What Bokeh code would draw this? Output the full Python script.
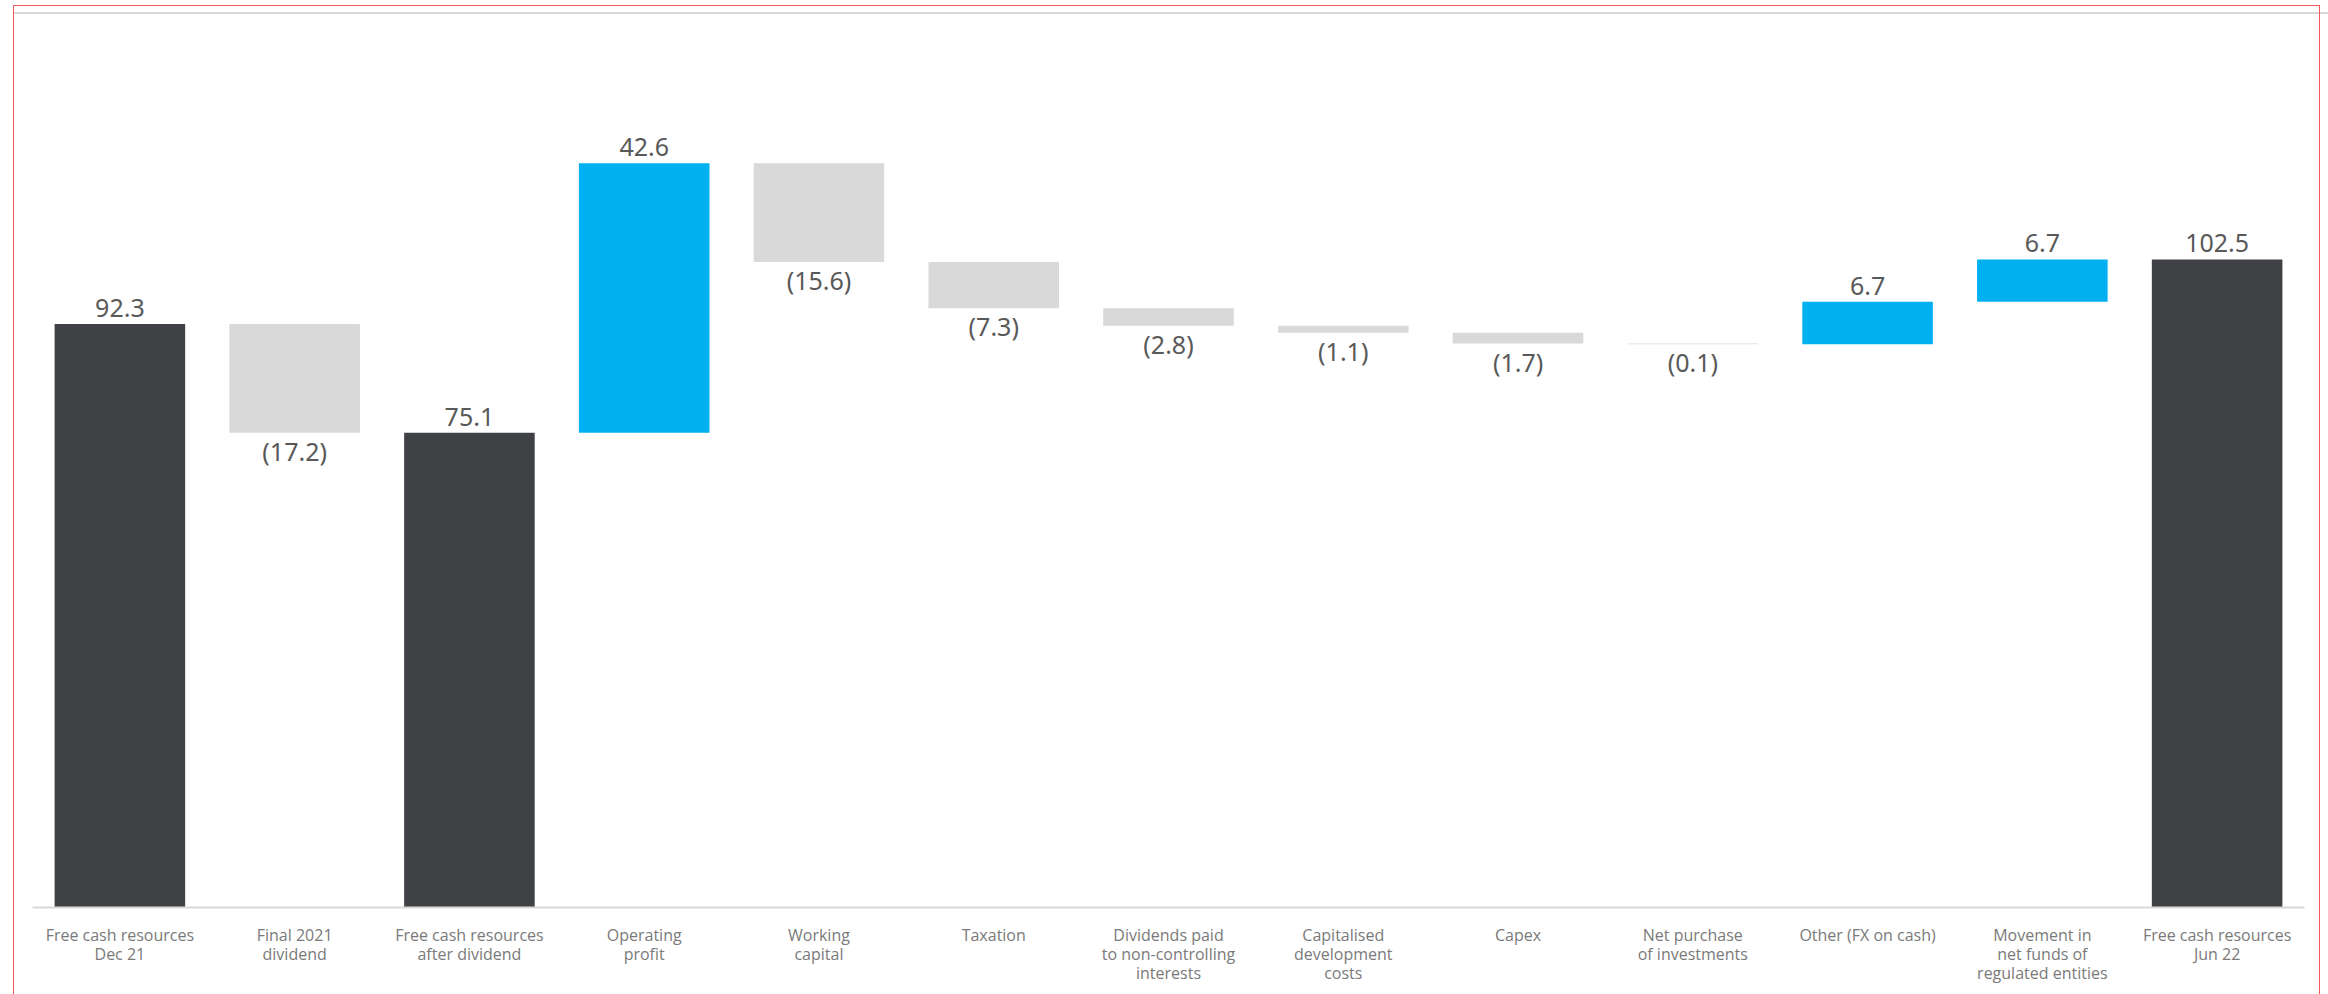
from bokeh.plotting import figure
from bokeh.models import FactorRange, Range1d, ColumnDataSource, InlineStyleSheet
from bokeh.core.properties import value
from bokeh.embed import file_html
from bokeh.resources import INLINE

# ---- data ----
categories = [
    "Free cash resources\nDec 21",
    "Final 2021\ndividend",
    "Free cash resources\nafter dividend",
    "Operating\nprofit",
    "Working\ncapital",
    "Taxation",
    "Dividends paid\nto non-controlling\ninterests",
    "Capitalised\ndevelopment\ncosts",
    "Capex",
    "Net purchase\nof investments",
    "Other (FX on cash)",
    "Movement in\nnet funds of\nregulated entities",
    "Free cash resources\nJun 22",
]
amounts = [92.3, -17.2, 75.1, 42.6, -15.6, -7.3, -2.8, -1.1, -1.7, -0.1, 6.7, 6.7, 102.5]
kinds = ["total", "change", "total", "change", "change", "change", "change",
         "change", "change", "change", "change", "change", "total"]

colors = {"total": "#404145", "neg": "#d9d9d9", "pos": "#00b0f0"}

bottoms, tops, fills, labels, signs = [], [], [], [], []
running = 0.0
for amt, kind in zip(amounts, kinds):
    if kind == "total":
        b, t = 0.0, amt
        running = amt
        fills.append(colors["total"])
        signs.append("pos")
    else:
        start = running
        running = round(running + amt, 4)
        b, t = min(start, running), max(start, running)
        fills.append(colors["pos"] if amt >= 0 else colors["neg"])
        signs.append("pos" if amt >= 0 else "neg")
    bottoms.append(b)
    tops.append(t)
    labels.append(f"{amt:.1f}" if amt >= 0 else f"({abs(amt):.1f})")

src = ColumnDataSource(dict(x=categories, bottom=bottoms, top=tops, fill=fills))
pos_idx = [i for i, s in enumerate(signs) if s == "pos"]
neg_idx = [i for i, s in enumerate(signs) if s == "neg"]
pos_src = ColumnDataSource(dict(x=[categories[i] for i in pos_idx],
                                y=[tops[i] for i in pos_idx],
                                t=[labels[i] for i in pos_idx]))
neg_src = ColumnDataSource(dict(x=[categories[i] for i in neg_idx],
                                y=[bottoms[i] for i in neg_idx],
                                t=[labels[i] for i in neg_idx]))

W, H = 2328, 994
p = figure(width=W, height=H, x_range=FactorRange(*categories),
           y_range=Range1d(0, 141.4), output_backend="svg", toolbar_location=None,
           min_border_left=32, min_border_right=24, min_border_top=13,
           min_border_bottom=87, y_axis_location=None)
p.x_range.range_padding = 0
p.x_range.factor_padding = 0

p.vbar(x="x", bottom="bottom", top="top", width=0.747, fill_color="fill",
       line_color=None, source=src)

p.text(x="x", y="y", text="t", source=pos_src, text_align="center",
       text_baseline="bottom", y_offset=-7, text_font=value("Noto Sans"),
       text_font_size="25px", text_color="#595959")
p.text(x="x", y="y", text="t", source=neg_src, text_align="center",
       text_baseline="top", y_offset=1, text_font=value("Noto Sans"),
       text_font_size="25px", text_color="#595959")

p.xgrid.visible = False
p.ygrid.visible = False
p.outline_line_color = None
ax = p.xaxis[0]
ax.axis_line_color = "#d9d9d9"
ax.axis_line_width = 2
ax.major_tick_line_color = None
ax.minor_tick_line_color = None
ax.major_label_standoff = 10
ax.major_label_text_font = "Open Sans"
ax.major_label_text_font_size = "16px"
ax.major_label_text_color = "#7a7a7a"
ax.major_label_text_line_height = 0.88

# top grey rule and red frame (page decoration)
p.stylesheets = [InlineStyleSheet(css="""
:host::before {
  content: ""; position: absolute; left: 13px; top: 12px; width: 2315px;
  height: 2px; background: #d9d9d9; pointer-events: none; z-index: 5;
}
:host::after {
  content: ""; position: absolute; left: 13px; top: 5px; width: 2305px;
  height: 1000px; border: 1.5px solid #f4595d; pointer-events: none; z-index: 6;
}
""")]

open("out.html", "w").write(file_html(p, INLINE))
